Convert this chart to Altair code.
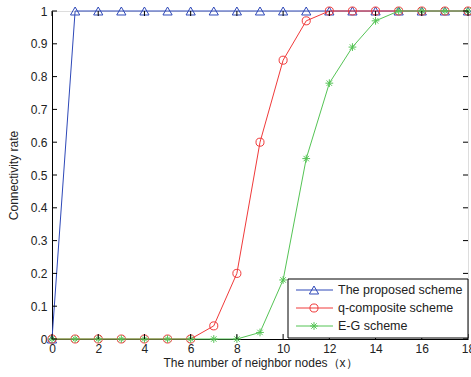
import altair as alt
import pandas as pd

x_vals = list(range(0, 19))
proposed = [0] + [1] * 18
qcomp = [0, 0, 0, 0, 0, 0, 0, 0.04, 0.2, 0.6, 0.85, 0.97, 1, 1, 1, 1, 1, 1, 1]
eg = [0, 0, 0, 0, 0, 0, 0, 0, 0, 0.02, 0.18, 0.55, 0.78, 0.89, 0.97, 1, 1, 1, 1]
series = ["The proposed scheme", "q-composite scheme", "E-G scheme"]
colors = ["#2e48b8", "#f03a3a", "#55c455"]
x_ticks = list(range(0, 19, 2))
y_ticks = [round(i * 0.1, 1) for i in range(11)]

ASTER = "M0,-1L0,1M-1,0L1,0M-0.7,-0.7L0.7,0.7M-0.7,0.7L0.7,-0.7"
shapes = ["triangle-up", "circle", ASTER]
sizes = [85, 65, 60]

rows = []
for name, vals in zip(series, [proposed, qcomp, eg]):
    for xv, yv in zip(x_vals, vals):
        rows.append({"x": xv, "y": yv, "series": name})
df = pd.DataFrame(rows)

W, H = 416, 328
FONT = "Liberation Sans"

xs = alt.Scale(domain=[0, 18], nice=False, zero=False)
ys = alt.Scale(domain=[0, 1], nice=False)
color = alt.Color("series:N", scale=alt.Scale(domain=series, range=colors), legend=None)

base = alt.Chart(df)

xax = alt.Axis(values=x_ticks, ticks=False, labelFontSize=12, labelFont=FONT,
               labelColor="#222", labelPadding=4, title="The number of neighbor nodes（x）",
               titleFont=FONT, titleFontSize=12, titleFontWeight="normal", titleColor="#222",
               titlePadding=3, domainColor="#000", grid=False, labelFlush=False)
yax = alt.Axis(values=y_ticks, ticks=False, format=".1~f", labelFontSize=12, labelFont=FONT,
               labelColor="#222", labelPadding=5, title="Connectivity rate",
               titleFont=FONT, titleFontSize=12, titleFontWeight="normal", titleColor="#222",
               titlePadding=10, domainColor="#000", grid=False)

X = lambda f: alt.X(f, scale=xs, axis=xax)
Y = lambda f: alt.Y(f, scale=ys, axis=yax)

layers = []
for i, name in enumerate(series):
    sub = base.transform_filter(alt.datum.series == name)
    layers.append(sub.mark_line(strokeWidth=1, clip=False).encode(
        x=X("x:Q"), y=Y("y:Q"), color=color))
    layers.append(sub.mark_point(filled=False, strokeWidth=1, size=sizes[i], shape=shapes[i],
                                 opacity=1, clip=False).encode(
        x=X("x:Q"), y=Y("y:Q"), color=color))

# inward ticks
xt = alt.Chart(pd.DataFrame({"x": x_ticks}))
yt = alt.Chart(pd.DataFrame({"y": y_ticks}))
tick_layers = [
    xt.mark_rule(color="#000", strokeWidth=1).encode(
        x=X("x:Q"), y=alt.value(H), y2=alt.value(H - 5)),
    xt.mark_rule(color="#000", strokeWidth=1).encode(
        x=X("x:Q"), y=alt.value(0), y2=alt.value(5)),
    yt.mark_rule(color="#000", strokeWidth=1).encode(
        y=Y("y:Q"), x=alt.value(0), x2=alt.value(5)),
    yt.mark_rule(color="#000", strokeWidth=1).encode(
        y=Y("y:Q"), x=alt.value(W), x2=alt.value(W - 5)),
]

# legend (drawn in pixel space inside the plot)
LX0, LX1, LY0, LY1 = 236, 416, 268, 327
row_y = [279, 297, 315]
one = alt.Chart(pd.DataFrame({"series": series}))
leg_layers = [
    alt.Chart(pd.DataFrame({"a": [0]})).mark_rect(fill="white", stroke="#000", strokeWidth=1).encode(
        x=alt.value(LX0), x2=alt.value(LX1), y=alt.value(LY0), y2=alt.value(LY1)),
]
for i, name in enumerate(series):
    r = one.transform_filter(alt.datum.series == name)
    leg_layers.append(r.mark_rule(strokeWidth=1, color=colors[i]).encode(
        x=alt.value(244), x2=alt.value(281), y=alt.value(row_y[i])))
    leg_layers.append(r.mark_point(filled=False, strokeWidth=1, size=sizes[i], shape=shapes[i],
                                   opacity=1, color=colors[i]).encode(
        x=alt.value(262), y=alt.value(row_y[i])))
    leg_layers.append(r.mark_text(align="left", baseline="middle", font=FONT, fontSize=12.5,
                                  color="#222").encode(
        x=alt.value(286), y=alt.value(row_y[i]), text="series:N"))

chart = alt.layer(*layers, *tick_layers, *leg_layers).properties(
    width=W, height=H,
    autosize=alt.AutoSizeParams(type="none"),
    padding={"left": 52, "top": 11, "right": 3, "bottom": 38},
).configure_view(stroke="#000", strokeWidth=1).configure(background="white")

chart.save("out.html", embed_options={"renderer": "svg", "actions": False})
